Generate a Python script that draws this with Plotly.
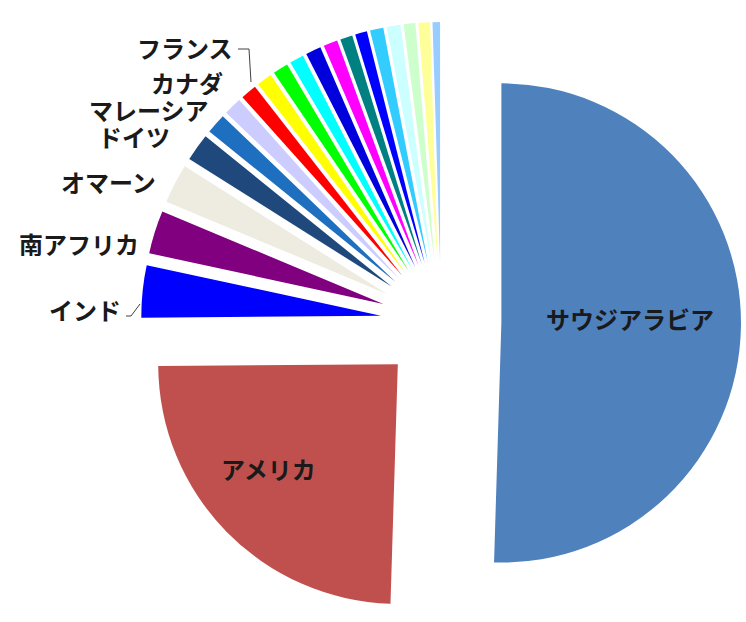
import plotly.graph_objects as go

W, H = 746, 622

# Share by country (percent), clockwise from 12 o'clock
countries = [
    "サウジアラビア", "アメリカ", "インド", "南アフリカ", "オマーン", "ドイツ",
    "マレーシア", "カナダ", "フランス", "その他1", "その他2", "その他3",
    "その他4", "その他5", "その他6", "その他7", "その他8", "その他9",
    "その他10", "その他11", "その他12",
]
shares = [
    50.3, 24.3, 3.5, 2.9, 2.65, 1.85,
    1.35, 1.2, 1.08, 1.03, 1.03, 0.95,
    1.03, 0.95, 0.83, 0.8, 0.9, 0.92,
    0.78, 0.78, 0.5,
]

colors = [
    "#4F81BD", "#C0504D", "#0000FF", "#800080", "#EEECE1", "#1F497D",
    "#1F6FC0", "#CCCCFF", "#FF0000", "#FFFF00", "#00FF00", "#00FFFF",
    "#0000DD", "#FF00FF", "#008080", "#0000FF", "#33CCFF", "#CCFFFF",
    "#CCFFCC", "#FFFF99", "#99CCFF",
]

FONT = dict(family="Noto Sans CJK JP", size=24, color="#1a1a1a", weight="bold")


def px(x, y):
    """Pixel position (from top-left) to paper coordinates."""
    return x / W, 1 - y / H


fig = go.Figure(
    go.Pie(
        labels=countries,
        values=shares,
        textinfo="none",
        sort=False,
        direction="clockwise",
        rotation=0,
        pull=[0.252] * len(shares),
        marker=dict(colors=colors, line=dict(width=0)),
        domain=dict(x=[141 / W, 741 / W], y=[0, 600 / H]),
        hoverinfo="label+percent",
    )
)

# Data labels: (text, x px, y px, anchor)
label_spots = [
    ("サウジアラビア", 630, 318, "center"),
    ("アメリカ", 268, 468, "center"),
    ("インド", 122, 309, "right"),
    ("南アフリカ", 140, 243, "right"),
    ("オマーン", 157, 181, "right"),
    ("ドイツ", 171, 136, "right"),
    ("マレーシア", 210, 109, "right"),
    ("カナダ", 224, 82, "right"),
    ("フランス", 234, 47, "right"),
]
for txt, x, y, anchor in label_spots:
    ax, ay = px(x, y)
    fig.add_annotation(
        x=ax, y=ay, xref="paper", yref="paper", text=txt,
        showarrow=False, xanchor=anchor, yanchor="middle", font=FONT,
        height=26, borderpad=0,
    )

# Leader lines for the two labels set away from their slices
leaders = [
    [(126, 316), (131, 316), (140, 304)],
    [(238, 49), (249, 49), (251, 82)],
]
for pts in leaders:
    for (x0, y0), (x1, y1) in zip(pts[:-1], pts[1:]):
        p0, p1 = px(x0, y0), px(x1, y1)
        fig.add_shape(
            type="line", xref="paper", yref="paper",
            x0=p0[0], y0=p0[1], x1=p1[0], y1=p1[1],
            line=dict(color="#404040", width=1),
        )

fig.update_layout(
    width=W,
    height=H,
    margin=dict(l=0, r=0, t=0, b=0),
    showlegend=False,
    paper_bgcolor="white",
    plot_bgcolor="white",
)

fig.write_html("out.html")
